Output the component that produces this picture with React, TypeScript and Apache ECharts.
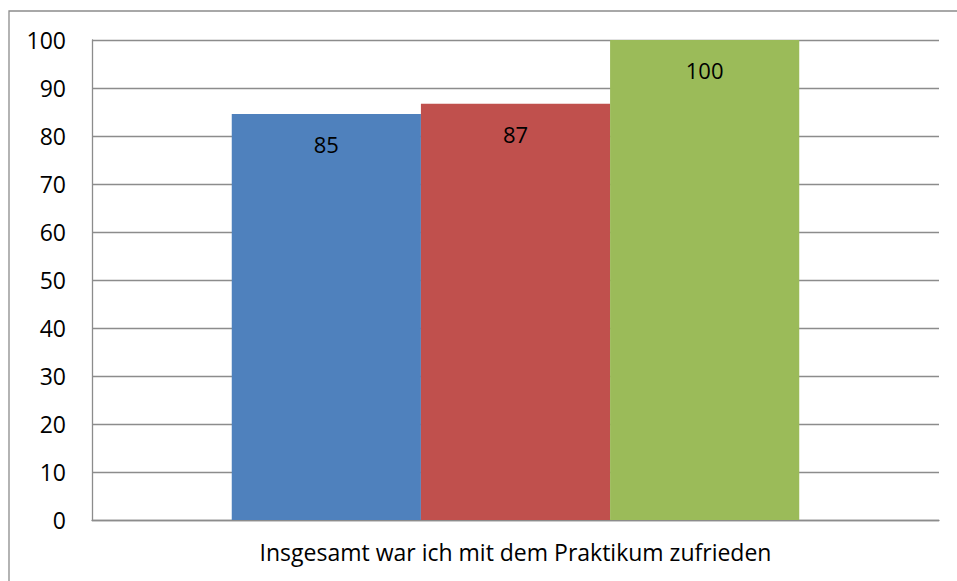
import React, { useEffect, useRef } from "react";
import * as echarts from "echarts";

const categories = ["Insgesamt war ich mit dem Praktikum zufrieden"];
const seriesNames = ["A", "B", "C"];
const seriesValues = [84.6, 86.7, 100];
const seriesColors = ["#4F81BD", "#C0504D", "#9BBB59"];
const yTicks = { min: 0, max: 100, interval: 10 };

export default function App() {
  const ref = useRef<HTMLDivElement>(null);
  useEffect(() => {
    if (!ref.current) return;
    const chart = echarts.init(ref.current, null, { renderer: "svg" });
    const font = "'Open Sans', 'Noto Sans', sans-serif";
    chart.setOption({
      animation: false,
      backgroundColor: "#ffffff",
      textStyle: { fontFamily: font },
      grid: { left: 92, right: 18, top: 40, bottom: 61, containLabel: false },
      graphic: [
        {
          type: "rect",
          shape: { x: 9, y: 11, width: 1200, height: 1200 },
          style: { fill: "none", stroke: "#8c8c8c", lineWidth: 1.3 },
          silent: true,
          z: 100,
        },
      ],
      xAxis: {
        type: "category",
        data: categories,
        axisLine: { show: true, lineStyle: { color: "#8c8c8c", width: 1.3 } },
        axisTick: { show: false },
        axisLabel: { color: "#000", fontSize: 23, fontFamily: font, margin: 20 },
      },
      yAxis: {
        type: "value",
        min: yTicks.min,
        max: yTicks.max,
        interval: yTicks.interval,
        axisLine: { show: true, lineStyle: { color: "#8c8c8c", width: 1.3 } },
        axisTick: { show: false },
        splitLine: { show: true, lineStyle: { color: "#8c8c8c", width: 1.3 } },
        axisLabel: { color: "#000", fontSize: 23, fontFamily: font, margin: 26 },
      },
      series: seriesValues.map((v, i) => ({
        name: seriesNames[i],
        type: "bar",
        data: [v],
        barGap: "0%",
        barCategoryGap: "33%",
        itemStyle: { color: seriesColors[i] },
        label: {
          show: true,
          position: "insideTop",
          distance: 19,
          color: "#000",
          fontSize: 22,
          fontFamily: font,
          formatter: (p: any) => String(Math.round(p.value)),
        },
      })),
    });
    return () => chart.dispose();
  }, []);
  return (
    <div
      ref={ref}
      style={{ position: "absolute", left: 0, top: 0, width: 957, height: 581 }}
    />
  );
}
